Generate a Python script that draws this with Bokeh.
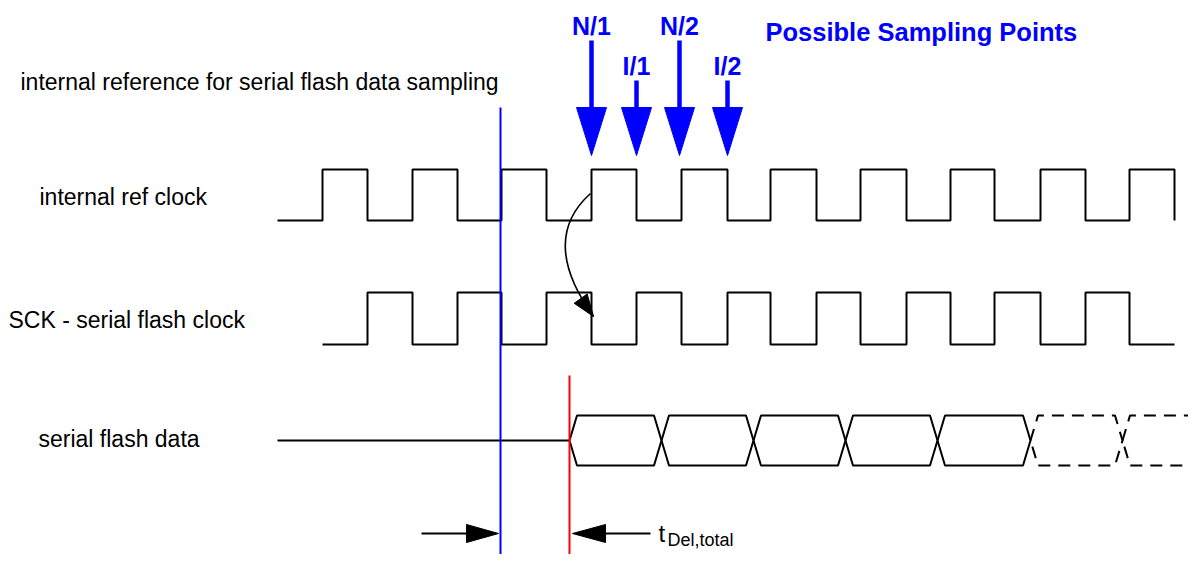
from bokeh.plotting import figure
from bokeh.models import Range1d
from bokeh.core.properties import value
from bokeh.embed import file_html
from bokeh.resources import INLINE

# ---------------- data (pixel-like diagram units) ----------------
ref_edges = [322, 367, 412, 457, 501, 546, 591, 636, 681, 727,
             770, 816, 860, 906, 950, 994, 1040, 1085, 1129, 1174]
ref_start = 277
sck_start = 322
sck_end = 1174
ref_levels = [220, 169]      # low, high
sck_levels = [344, 292]      # low, high

data_start = 277
data_cross_solid = [569, 661, 753, 845, 937, 1030]
data_cross_dashed = [1030, 1122, 1214]
data_mid, data_top, data_bot = 440, 415, 465
data_slant = 7.5

sample_x = [591, 636, 679, 727]
sample_labels = ["N/1", "I/1", "N/2", "I/2"]
sample_shaft_top = [40, 80, 40, 80]
sample_label_y = [25, 65, 25, 65]
sample_tip_y = 155
sample_head_y = 107

ref_line_x = 500       # internal reference (blue)
delay_line_x = 569     # data valid (red)

row_labels = ["internal reference for serial flash data sampling",
              "internal ref clock", "SCK - serial flash clock", "serial flash data"]
row_label_x = [20, 39, 8, 38]
row_label_y = [81, 196, 319, 438]

FONT = value("Liberation Sans")
BLUE = "#0000ff"

# ---------------- figure ----------------
W, H = 1188, 554
p = figure(width=W, height=H, output_backend="svg", toolbar_location=None,
           x_range=Range1d(0, W), y_range=Range1d(H, 0),
           x_axis_location=None, y_axis_location=None, min_border=0)
p.grid.visible = False
p.outline_line_color = None
p.background_fill_color = "white"
p.border_fill_color = "white"


def clock(start, edges, end, levels):
    xs, ys = [start], [levels[0]]
    lvl = 0
    for e in edges:
        xs += [e, e]
        ys += [levels[lvl], levels[1 - lvl]]
        lvl = 1 - lvl
    xs.append(end)
    ys.append(levels[lvl])
    return xs, ys


# internal ref clock
rx, ry = clock(ref_start, ref_edges[:-1], ref_edges[-1], ref_levels)
rx += [ref_edges[-1]]
ry += [ref_levels[0]]
p.line(rx, ry, line_color="black", line_width=2)

# SCK
sx, sy = clock(sck_start, ref_edges[1:-1], sck_end, sck_levels)
p.line(sx, sy, line_color="black", line_width=2)


# serial flash data
def eyes(crosses):
    xs_list, ys_list = [], []
    for a, b in zip(crosses[:-1], crosses[1:]):
        xs_list.append([a, a + data_slant, b - data_slant, b, b - data_slant, a + data_slant, a])
        ys_list.append([data_mid, data_top, data_top, data_mid, data_bot, data_bot, data_mid])
    return xs_list, ys_list


p.line([data_start, data_cross_solid[0]], [data_mid, data_mid], line_color="black", line_width=2)
ex, ey = eyes(data_cross_solid)
p.multi_line(ex, ey, line_color="black", line_width=2)
dx, dy = eyes(data_cross_dashed)
p.multi_line(dx, dy, line_color="black", line_width=2, line_dash="12 8")

# vertical reference lines
p.line([ref_line_x, ref_line_x], [107, 580], line_color=BLUE, line_width=2)
p.line([delay_line_x, delay_line_x], [375, 568], line_color="#ff0000", line_width=2)

# curved arrow from ref clock edge to SCK edge
P0 = (590, 193); C0 = (552, 227); C1 = (560, 270); P3 = (593, 316)
p.bezier(x0=[P0[0]], y0=[P0[1]], x1=[P3[0]], y1=[P3[1]],
         cx0=[C0[0]], cy0=[C0[1]], cx1=[C1[0]], cy1=[C1[1]],
         line_color="black", line_width=1.6)
ddx, ddy = P3[0] - C1[0], P3[1] - C1[1]
n = (ddx ** 2 + ddy ** 2) ** 0.5
ux, uy = ddx / n, ddy / n
hl, hw = 22, 8
bx, by = P3[0] - hl * ux, P3[1] - hl * uy
p.patch([P3[0], bx - hw * uy, bx + hw * uy], [P3[1], by + hw * ux, by - hw * ux],
        fill_color="black", line_color="black", line_width=1)

# sampling point arrows
for x, top in zip(sample_x, sample_shaft_top):
    p.line([x, x], [top, sample_head_y + 2], line_color=BLUE, line_width=4.5)
    p.patch([x - 15, x + 15, x], [sample_head_y, sample_head_y, sample_tip_y],
            fill_color=BLUE, line_color=BLUE, line_width=1)
p.text(x=sample_x, y=sample_label_y, text=sample_labels, text_font=FONT,
       text_font_size="25px", text_font_style="bold", text_color=BLUE,
       text_align="center", text_baseline="alphabetic")
p.text(x=[765], y=[31], text=["Possible Sampling Points"], text_font=FONT,
       text_font_size="25.5px", text_font_style="bold", text_color=BLUE,
       text_align="left", text_baseline="alphabetic")

# row labels
p.text(x=row_label_x, y=row_label_y, text=row_labels, text_font=FONT,
       text_font_size="23px", text_color="black",
       text_align="left", text_baseline="alphabetic")

# delay arrows at bottom
ay = 533
p.line([421, 470], [ay, ay], line_color="black", line_width=2)
p.patch([466, 466, 498], [ay - 9, ay + 9, ay], fill_color="black", line_color="black")
p.line([600, 650], [ay, ay], line_color="black", line_width=2)
p.patch([605, 605, 572], [ay - 9, ay + 9, ay], fill_color="black", line_color="black")
p.text(x=[658], y=[533], text=["t"], text_font=FONT, text_font_size="24px",
       text_color="black", text_align="left", text_baseline="alphabetic")
p.text(x=[667], y=[539], text=["Del,total"], text_font=FONT, text_font_size="18px",
       text_color="black", text_align="left", text_baseline="alphabetic")

open("out.html", "w").write(file_html(p, INLINE))
